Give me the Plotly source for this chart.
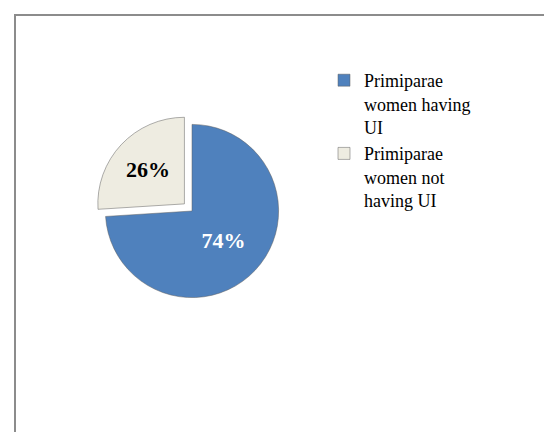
import plotly.graph_objects as go

categories = ["Primiparae<br>women having<br>UI", "Primiparae<br>women not<br>having UI"]
values = [74, 26]
colors = ["#4F81BD", "#EEECE1"]
text_colors = ["white", "black"]

SERIF = "Liberation Serif, Times New Roman, serif"

fig = go.Figure()
fig.add_trace(go.Pie(
    labels=categories,
    values=values,
    sort=False,
    direction="clockwise",
    rotation=0,
    pull=[0, 0.12],
    marker=dict(colors=colors, line=dict(color="#5f5f5f", width=0.5)),
    texttemplate="<b>%{percent:.0%}</b>",
    textposition="inside",
    insidetextorientation="horizontal",
    textfont=dict(family=SERIF, size=22, color=text_colors),
    domain=dict(x=[76/552, 292/552], y=[1-300/432, 1-106/432]),
    hoverinfo="label+percent",
))

fig.update_layout(
    width=552, height=432,
    margin=dict(l=0, r=0, t=0, b=0),
    paper_bgcolor="white",
    showlegend=True,
    legend=dict(
        x=316/552, y=1-54/432, xanchor="left", yanchor="top",
        font=dict(family=SERIF, size=18, color="black"),
        tracegroupgap=6, itemwidth=30, valign="top",
    ),
    shapes=[dict(type="rect", xref="paper", yref="paper",
                 x0=7/552, x1=1.05, y0=-0.05, y1=1-7/432,
                 line=dict(color="#8c8c8c", width=2), fillcolor="rgba(0,0,0,0)")],
)

fig.write_html("out.html")
